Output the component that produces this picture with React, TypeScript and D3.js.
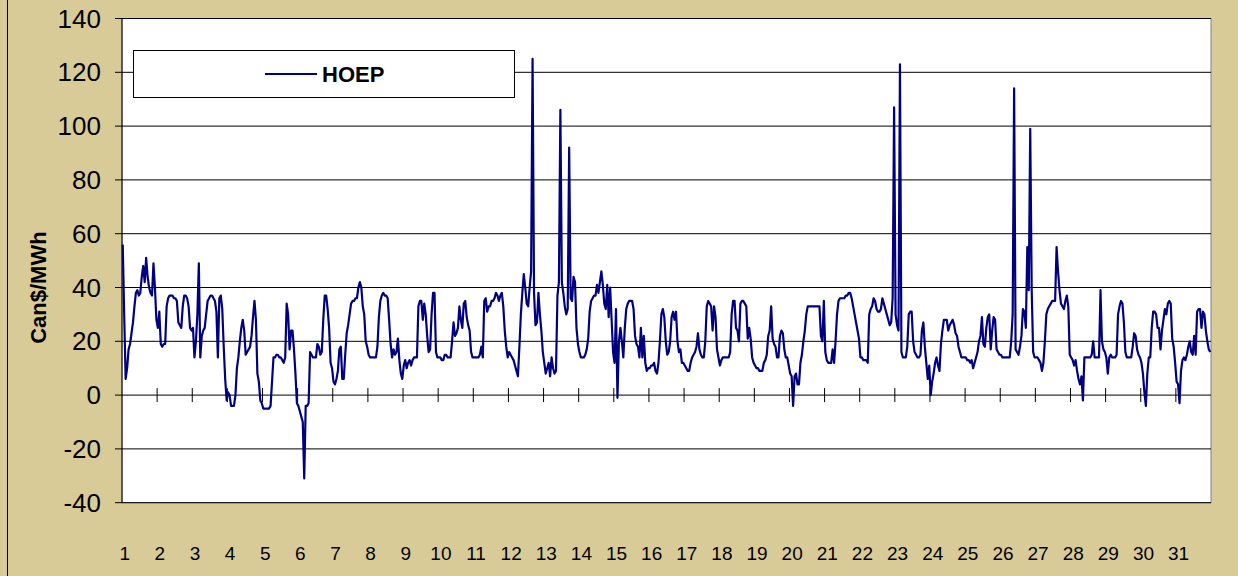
import React from "react";
import * as d3 from "d3";

const seriesName = "HOEP";
const yTicks = [-40, -20, 0, 20, 40, 60, 80, 100, 120, 140];
const dayLabels = d3.range(1, 32).map(String);

// Hourly Ontario energy price, one row per day (24 hours)
const day01 = [56, 30, 6, 10, 17, 19, 23, 27, 33, 38, 39, 37, 38, 44, 48, 42, 51, 44, 40, 38, 37, 49, 40, 28];
const day02 = [25, 31, 19, 18, 19, 19, 33, 36, 37, 37, 37, 36, 36, 35, 27, 26, 25, 33, 37, 37, 36, 33, 25, 24];
const day03 = [25, 14, 20, 30, 49, 14, 22, 24, 25, 30, 35, 36, 37, 37, 36, 35, 31, 14, 36, 37, 32, 18, 6, -2];
const day04 = [1, 0, -4, -4, -4, 0, 10, 14, 20, 25, 28, 24, 15, 16, 17, 18, 22, 29, 35, 28, 8, 5, -2, -3];
const day05 = [-5, -5, -5, -5, -5, -4, 5, 14, 14, 15, 15, 14, 14, 13, 12, 14, 34, 30, 17, 24, 24, 17, 8, -3];
const day06 = [-4, -6, -8, -10, -31, -4, -4, -3, 16, 15, 14, 14, 14, 19, 18, 15, 16, 28, 37, 37, 32, 25, 12, 10];
const day07 = [5, 4, 6, 9, 17, 18, 6, 6, 15, 23, 26, 30, 34, 35, 35, 36, 36, 40, 42, 40, 33, 30, 20, 18];
const day08 = [15, 14, 14, 14, 14, 14, 18, 29, 35, 37, 38, 37, 37, 36, 28, 19, 14, 17, 15, 16, 21, 13, 8, 6];
const day09 = [11, 13, 10, 12, 13, 11, 13, 14, 14, 14, 33, 35, 35, 28, 34, 30, 22, 16, 17, 30, 38, 38, 16, 14];
const day10 = [14, 14, 13, 13, 15, 15, 14, 14, 14, 20, 27, 22, 23, 25, 33, 28, 25, 34, 35, 29, 26, 24, 16, 14];
const day11 = [14, 14, 14, 14, 15, 18, 14, 35, 36, 31, 33, 33, 35, 35, 36, 38, 37, 35, 37, 38, 33, 24, 18, 14];
const day12 = [16, 15, 14, 13, 11, 9, 7, 18, 30, 38, 45, 40, 34, 33, 40, 46, 125, 38, 26, 27, 38, 30, 24, 16];
const day13 = [12, 8, 10, 12, 7, 14, 10, 8, 9, 37, 42, 106, 42, 38, 33, 30, 32, 92, 36, 35, 44, 42, 25, 19];
const day14 = [16, 14, 14, 14, 15, 17, 21, 31, 35, 36, 37, 37, 41, 38, 42, 46, 41, 34, 32, 41, 29, 40, 28, 16];
const day15 = [12, 32, -1, 20, 25, 20, 14, 25, 32, 34, 35, 35, 35, 32, 22, 19, 18, 14, 25, 14, 22, 12, 9, 10];
const day16 = [10, 11, 11, 12, 9, 8, 12, 20, 30, 32, 29, 20, 15, 16, 20, 29, 31, 28, 31, 20, 16, 17, 12, 12];
const day17 = [11, 10, 9, 9, 12, 14, 15, 16, 18, 23, 17, 15, 14, 14, 20, 33, 35, 34, 33, 24, 33, 29, 17, 14];
const day18 = [11, 13, 14, 14, 14, 14, 14, 16, 30, 35, 35, 25, 24, 20, 34, 35, 35, 34, 33, 21, 25, 21, 14, 12];
const day19 = [11, 10, 10, 9, 9, 9, 12, 13, 15, 22, 24, 33, 21, 19, 18, 14, 14, 22, 24, 23, 17, 14, 14, 11];
const day20 = [8, 7, -4, 7, 8, 4, 4, 12, 15, 20, 24, 30, 33, 33, 33, 33, 33, 33, 33, 33, 33, 22, 20, 35];
const day21 = [16, 13, 12, 12, 12, 17, 12, 20, 30, 35, 36, 36, 36, 36, 37, 37, 38, 38, 36, 33, 30, 27, 24, 21];
const day22 = [14, 14, 13, 13, 13, 12, 30, 32, 33, 36, 35, 32, 31, 31, 32, 36, 34, 32, 30, 28, 26, 27, 36, 107];
const day23 = [30, 26, 24, 123, 16, 14, 14, 14, 18, 30, 31, 31, 20, 16, 15, 14, 14, 15, 24, 27, 18, 12, 6, 11];
const day24 = [0, 5, 8, 12, 14, 11, 9, 19, 24, 28, 28, 28, 24, 26, 27, 28, 26, 23, 22, 18, 16, 14, 14, 14];
const day25 = [14, 13, 13, 12, 13, 10, 12, 14, 16, 20, 22, 29, 19, 18, 25, 29, 30, 17, 24, 29, 28, 17, 16, 15];
const day26 = [15, 14, 14, 14, 14, 14, 14, 20, 30, 114, 17, 16, 15, 18, 22, 32, 31, 25, 55, 39, 99, 39, 16, 14];
const day27 = [14, 14, 13, 12, 9, 12, 20, 30, 32, 33, 34, 35, 35, 35, 55, 46, 39, 34, 33, 32, 35, 37, 33, 15];
const day28 = [14, 13, 11, 13, 9, 6, 4, 7, -2, 14, 14, 14, 14, 14, 15, 20, 14, 14, 14, 14, 39, 20, 17, 16];
const day29 = [14, 8, 14, 15, 14, 14, 14, 15, 30, 33, 35, 34, 27, 16, 14, 14, 14, 14, 18, 23, 22, 17, 15, 14];
const day30 = [12, 8, 1, -4, 8, 14, 14, 25, 31, 31, 30, 25, 25, 17, 24, 28, 32, 30, 34, 35, 34, 21, 18, 12];
const day31 = [5, 4, -3, 9, 13, 14, 13, 15, 18, 20, 16, 15, 22, 15, 31, 32, 32, 25, 31, 30, 24, 20, 17, 16];

const hoep: number[] = [
  day01, day02, day03, day04, day05, day06, day07, day08, day09, day10,
  day11, day12, day13, day14, day15, day16, day17, day18, day19, day20,
  day21, day22, day23, day24, day25, day26, day27, day28, day29, day30, day31,
].flat();

const W = 1238;
const H = 576;
const plot = { left: 122, right: 1211, top: 18.5, bottom: 502.7 };
const FONT = "'Liberation Sans', Arial, Helvetica, sans-serif";

export default function App() {
  const n = hoep.length;
  const step = (plot.right - plot.left) / n;
  const xCenter = (i: number) => plot.left + (i + 0.5) * step;
  const xEdge = (i: number) => plot.left + i * step;
  const y = d3.scaleLinear().domain([-40, 140]).range([plot.bottom, plot.top]);

  const line = d3
    .line<number>()
    .x((_, i) => xCenter(i))
    .y((d) => y(d));

  const dayTicks = d3.range(1, 31).map((k) => xEdge(k * 24));

  return (
    <svg
      width={W}
      height={H}
      style={{ position: "absolute", left: 0, top: 0 }}
      xmlns="http://www.w3.org/2000/svg"
    >
      <rect x={0} y={0} width={W} height={H} fill="#D8CB98" />
      <line x1={7.5} x2={7.5} y1={0} y2={H} stroke="#000" strokeWidth={1} />
      <rect
        x={plot.left}
        y={plot.top}
        width={plot.right - plot.left}
        height={plot.bottom - plot.top}
        fill="#fff"
        stroke="#808080"
        strokeWidth={1}
      />
      {yTicks.map((t) => (
        <g key={t}>
          <line x1={plot.left} x2={plot.right} y1={y(t)} y2={y(t)} stroke="#000" strokeWidth={1} />
          <line x1={plot.left - 7} x2={plot.left} y1={y(t)} y2={y(t)} stroke="#000" strokeWidth={1} />
          <text
            x={101}
            y={y(t)}
            textAnchor="end"
            dominantBaseline="central"
            fontFamily={FONT}
            fontSize={26}
            fill="#000"
          >
            {t}
          </text>
        </g>
      ))}
      <line x1={plot.left} x2={plot.left} y1={plot.top} y2={plot.bottom} stroke="#000" strokeWidth={1} />
      {dayTicks.map((x, k) => (
        <line key={k} x1={x} x2={x} y1={y(0) - 7} y2={y(0) + 7} stroke="#000" strokeWidth={1} />
      ))}
      {dayLabels.map((lab, k) => (
        <text
          key={lab}
          x={xCenter(k * 24) + 2}
          y={553}
          textAnchor="middle"
          dominantBaseline="central"
          fontFamily={FONT}
          fontSize={19}
          fill="#000"
        >
          {lab}
        </text>
      ))}
      <text
        transform={`translate(38, ${(plot.top + plot.bottom) / 2 + 27}) rotate(-90)`}
        textAnchor="middle"
        dominantBaseline="central"
        fontFamily={FONT}
        fontSize={22}
        fontWeight="bold"
        fill="#000"
      >
        Can$/MWh
      </text>
      <path d={line(hoep) ?? ""} fill="none" stroke="#000080" strokeWidth={2.2} strokeLinejoin="round" />
      <rect x={133.5} y={50.5} width={381} height={47} fill="#fff" stroke="#000" strokeWidth={1} />
      <line x1={265} x2={317} y1={74} y2={74} stroke="#000080" strokeWidth={2.2} />
      <text
        x={322}
        y={74}
        dominantBaseline="central"
        fontFamily={FONT}
        fontSize={22}
        fontWeight="bold"
        fill="#000"
      >
        {seriesName}
      </text>
    </svg>
  );
}
